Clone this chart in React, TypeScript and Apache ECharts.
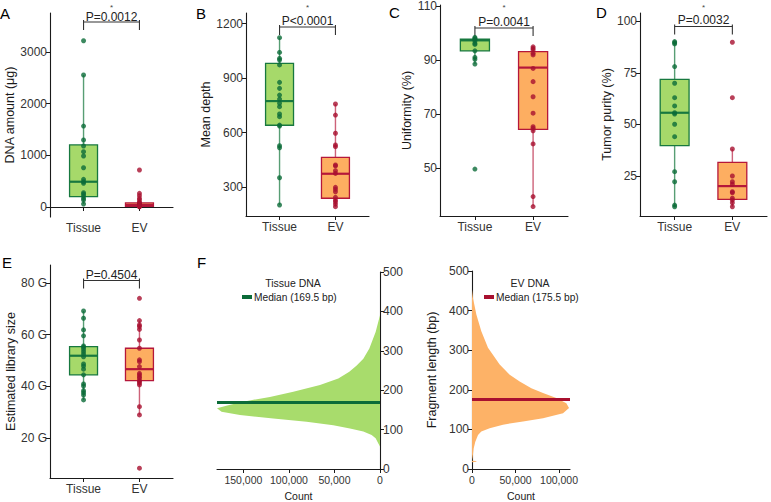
import React, { useEffect, useRef } from 'react';
import * as echarts from 'echarts';

// ---------------- data ----------------
const categories = ['Tissue', 'EV'];

// A: DNA amount (μg)
const dnaTissue = [3216, 2553, 1566, 1296, 1180, 1070, 986, 760, 536, 489, 458, 277, 251, 213, 168, 135, 58];
const dnaEV = [716, 265, 219, 168, 135, 95, 80, 65, 55, 45, 35, 25, 20, 15, 10, 5];
// [lower whisker, Q1, median, Q3, upper whisker]
const dnaBoxTissue = [58, 200, 489, 1200, 2553];
const dnaBoxEV = [5, 15, 40, 80, 168];

// B: Mean depth
const depthTissue = [1122, 1041, 1008, 999, 972, 876, 843, 806, 784, 761, 742, 702, 687, 641, 636, 527, 516, 351, 201];
const depthEV = [757, 696, 596, 531, 522, 421, 416, 390, 375, 298, 287, 274, 243, 228, 219, 206, 192];
const depthBoxTissue = [201, 640, 773, 981, 1122];
const depthBoxEV = [192, 238, 373, 463, 757];

// C: Uniformity (%)
const uniTissue = [98.4, 98.0, 97.7, 97.1, 96.2, 95.8, 93.4, 91.0, 90.3, 88.5, 49.6];
const uniEV = [94.9, 94.3, 93.7, 92.5, 91.9, 86.9, 82.0, 76.4, 70.3, 65.3, 64.7, 63.8, 58.9, 39.4, 35.7];
const uniBoxTissue = [88.5, 93.4, 97.3, 97.7, 98.4];
const uniBoxEV = [35.7, 64.3, 87.2, 93.1, 94.9];

// D: Tumor purity (%)
const purityTissue = [90.2, 89.7, 89.1, 78.1, 70.0, 63.0, 59.0, 55.7, 55.1, 50.1, 44.1, 27.1, 22.2, 10.9, 10.1];
const purityEV = [89.9, 63.0, 38.1, 25.0, 22.2, 21.0, 17.4, 16.9, 14.2, 13.3, 12.0, 10.1];
const purityBoxTissue = [10.1, 39.7, 55.7, 71.9, 90.2];
const purityBoxEV = [10.1, 13.7, 20.1, 31.6, 38.1];

// E: Estimated library size (G)
const libTissue = [69.1, 66.3, 61.8, 59.5, 55.6, 55.1, 54.3, 53.4, 52.5, 51.4, 48.6, 47.8, 46.6, 44.4, 40.9, 40.1, 38.3, 37.5, 36.6, 34.7];
const libEV = [74.0, 65.4, 63.7, 63.1, 62.0, 57.9, 54.7, 50.2, 49.5, 47.6, 45.0, 44.4, 43.7, 43.1, 42.2, 41.8, 41.2, 40.5, 32.1, 28.9, 8.3];
const libBoxTissue = [34.7, 44.4, 51.8, 55.3, 69.1];
const libBoxEV = [28.9, 42.2, 46.6, 54.7, 65.4];

const pValues = ['P=0.0012', 'P<0.0001', 'P=0.0041', 'P=0.0032', 'P=0.4504'];

// F: fragment length distributions (bp -> count)
const tissueFragLen = [57, 65, 78, 86, 95, 103, 111, 120, 128, 137, 145, 154, 162, 171, 183, 196, 213, 230, 247, 263, 280, 306, 348, 390];
const tissueFragCount = [0, 1800, 4800, 9200, 18300, 33000, 51300, 80600, 117200, 153800, 174000, 179000, 166700, 150200, 120900, 95200, 65900, 45800, 33700, 25600, 18300, 11700, 4800, 0];
const evFragLen = [17, 18, 20, 21, 31, 52, 69, 86, 95, 103, 112, 120, 128, 141, 154, 166, 179, 192, 204, 221, 238, 264, 306, 348, 390, 432, 453];
const evFragCount = [0, 5000, 5000, 0, 800, 1900, 3800, 6900, 10700, 20300, 35600, 58600, 81600, 104600, 111500, 108400, 96900, 81600, 68200, 54800, 43300, 31800, 18400, 10700, 5000, 1100, 0];
const tissueMedian = 169.5;
const evMedian = 175.5;
const fragTicks = [0, 100, 200, 300, 400, 500];
const countTicksTissue = [0, 50000, 100000, 150000];
const countTicksEV = [0, 50000, 100000];

// ---------------- style ----------------
const FONT = "'Liberation Sans', Arial, Helvetica, sans-serif";
const GREEN_FILL = '#a6d96a';
const GREEN = '#17783f';
const GREEN_PT = '#0b6b38';
const GREEN_WH = 'rgba(23,120,63,0.72)';
const ORANGE_FILL = '#fdae61';
const RED = '#b5173a';
const RED_PT = '#a8102f';
const RED_WH = 'rgba(181,23,58,0.68)';
const AXIS = '#1a1a1a';
const LABEL = '#333333';

type Panel = {
  letter: string; left: number; top: number; width: number; height: number;
  min: number; max: number; ticks: number[]; name: string; nameGap: number;
  tissue: number[]; ev: number[]; boxT: number[]; boxE: number[];
  fmt: (v: number) => string; p: string; bracketY: number; pY: number; star: boolean;
};

const panels: Panel[] = [
  { letter: 'A', left: 50, top: 13, width: 123, height: 204, min: -193, max: 3752, ticks: [0, 1000, 2000, 3000], name: 'DNA amount (μg)', nameGap: 33,
    tissue: dnaTissue, ev: dnaEV, boxT: dnaBoxTissue, boxE: dnaBoxEV, fmt: (v) => String(v), p: pValues[0], bracketY: 22, pY: 17, star: true },
  { letter: 'B', left: 246, top: 13, width: 123, height: 203, min: 140.4, max: 1257.8, ticks: [300, 600, 900, 1200], name: 'Mean depth', nameGap: 34,
    tissue: depthTissue, ev: depthEV, boxT: depthBoxTissue, boxE: depthBoxEV, fmt: (v) => String(v), p: pValues[1], bracketY: 27, pY: 21, star: true },
  { letter: 'C', left: 440, top: 5, width: 128, height: 211, min: 32.2, max: 110.4, ticks: [50, 70, 90, 110], name: 'Uniformity (%)', nameGap: 27,
    tissue: uniTissue, ev: uniEV, boxT: uniBoxTissue, boxE: uniBoxEV, fmt: (v) => String(v), p: pValues[2], bracketY: 28, pY: 22, star: true },
  { letter: 'D', left: 640, top: 13, width: 127, height: 203, min: 5.6, max: 104.1, ticks: [25, 50, 75, 100], name: 'Tumor purity (%)', nameGap: 27,
    tissue: purityTissue, ev: purityEV, boxT: purityBoxTissue, boxE: purityBoxEV, fmt: (v) => String(v), p: pValues[3], bracketY: 26.5, pY: 20, star: true },
  { letter: 'E', left: 50, top: 265, width: 123, height: 213, min: 4.5, max: 86.9, ticks: [20, 40, 60, 80], name: 'Estimated library size', nameGap: 33,
    tissue: libTissue, ev: libEV, boxT: libBoxTissue, boxE: libBoxEV, fmt: (v) => v + ' G', p: pValues[4], bracketY: 280.5, pY: 275, star: false },
];

const F_LEFT = { left: 217, top: 272, width: 163, height: 197, max: 179000 };
const F_RIGHT = { left: 472, top: 271, width: 98, height: 198, max: 112600 };

const fmtCount = (v: number) => v.toLocaleString('en-US');

function buildOption() {
  const grid: any[] = [];
  const xAxis: any[] = [];
  const yAxis: any[] = [];
  const series: any[] = [];
  const graphic: any[] = [];

  const axisLine = { show: true, lineStyle: { color: AXIS, width: 1.1 } };
  const axisTickBase = { show: true, length: 4, lineStyle: { color: AXIS, width: 1 } };

  panels.forEach((p, i) => {
    grid.push({ left: p.left, top: p.top, width: p.width, height: p.height, containLabel: false, outerBoundsMode: 'none' });
    xAxis.push({
      type: 'value', gridIndex: i, min: 0.4, max: 2.6,
      axisLine, splitLine: { show: false },
      axisTick: { ...axisTickBase, customValues: [1, 2] },
      axisLabel: { customValues: [1, 2], formatter: (v: number) => categories[Math.round(v) - 1] ?? '', color: LABEL, fontSize: 12, fontFamily: FONT, margin: 5 },
    });
    yAxis.push({
      type: 'value', gridIndex: i, min: p.min, max: p.max,
      axisLine, splitLine: { show: false },
      axisTick: { ...axisTickBase, customValues: p.ticks },
      axisLabel: { customValues: p.ticks, formatter: p.fmt, color: LABEL, fontSize: 12, fontFamily: FONT, margin: 3 },
      name: p.name, nameLocation: 'middle', nameGap: p.nameGap,
      nameTextStyle: { color: '#1a1a1a', fontSize: 12.5, fontFamily: FONT },
    });
    const boxT = p.boxT, boxE = p.boxE;
    series.push({
      type: 'custom', xAxisIndex: i, yAxisIndex: i, z: 2,
      data: [[1, ...boxT], [2, ...boxE]],
      encode: { x: 0, y: [1, 2, 3, 4, 5] },
      renderItem: (params: any, api: any) => {
        const x = api.value(0);
        const isT = params.dataIndex === 0;
        const stroke = isT ? GREEN : RED;
        const fill = isT ? GREEN_FILL : ORANGE_FILL;
        const wh = isT ? GREEN_WH : RED_WH;
        const halfW = api.size([0.5, 0])[0] / 2;
        const pts = [1, 2, 3, 4, 5].map((d) => api.coord([x, api.value(d)]));
        const [lw, q1, med, q3, uw] = pts;
        return {
          type: 'group',
          children: [
            { type: 'line', shape: { x1: lw[0], y1: lw[1], x2: q1[0], y2: q1[1] }, style: { stroke: wh, lineWidth: 1.4 } },
            { type: 'line', shape: { x1: q3[0], y1: q3[1], x2: uw[0], y2: uw[1] }, style: { stroke: wh, lineWidth: 1.4 } },
            { type: 'rect', shape: { x: q3[0] - halfW, y: q3[1], width: halfW * 2, height: Math.max(q1[1] - q3[1], 1) }, style: { fill, stroke, lineWidth: 1.3 } },
            { type: 'line', shape: { x1: med[0] - halfW, y1: med[1], x2: med[0] + halfW, y2: med[1] }, style: { stroke, lineWidth: 2.2 } },
          ],
        };
      },
    });
    series.push({
      type: 'scatter', xAxisIndex: i, yAxisIndex: i, z: 3, symbolSize: 5,
      itemStyle: { color: GREEN_PT }, data: p.tissue.map((v) => [1, v]),
    });
    series.push({
      type: 'scatter', xAxisIndex: i, yAxisIndex: i, z: 3, symbolSize: 5,
      itemStyle: { color: RED_PT }, data: p.ev.map((v) => [2, v]),
    });

    // significance bracket
    const cx = (c: number) => p.left + ((c - 0.4) / 2.2) * p.width;
    const x1 = cx(1), x2 = cx(2);
    graphic.push({ type: 'line', shape: { x1, y1: p.bracketY, x2, y2: p.bracketY }, style: { stroke: '#333', lineWidth: 1.1 } });
    graphic.push({ type: 'line', shape: { x1, y1: p.bracketY - 2, x2: x1, y2: p.bracketY + 8 }, style: { stroke: '#333', lineWidth: 1.1 } });
    graphic.push({ type: 'line', shape: { x1: x2, y1: p.bracketY - 2, x2, y2: p.bracketY + 8 }, style: { stroke: '#333', lineWidth: 1.1 } });
    graphic.push({ type: 'text', x: (x1 + x2) / 2, y: p.pY, style: { text: p.p, fill: '#222', font: `12px ${FONT}`, align: 'center', verticalAlign: 'middle' } });
    if (p.star) {
      graphic.push({ type: 'text', x: (x1 + x2) / 2, y: 7, style: { text: '*', fill: '#444', font: `8px ${FONT}`, align: 'center', verticalAlign: 'middle' } });
    }
  });

  const letters = [
    { t: 'A', x: 0, y: 13 }, { t: 'B', x: 196, y: 13 }, { t: 'C', x: 389, y: 12 }, { t: 'D', x: 596, y: 12 },
    { t: 'E', x: 2, y: 262 }, { t: 'F', x: 197, y: 262 },
  ];
  letters.forEach((l) => graphic.push({ type: 'text', x: l.x, y: l.y, style: { text: l.t, fill: '#000', font: `15px ${FONT}`, verticalAlign: 'middle' } }));

  // F left (tissue)
  const gL = panels.length;
  grid.push({ left: F_LEFT.left, top: F_LEFT.top, width: F_LEFT.width, height: F_LEFT.height, containLabel: false, outerBoundsMode: 'none' });
  xAxis.push({
    type: 'value', gridIndex: gL, min: 0, max: F_LEFT.max, inverse: true,
    axisLine, splitLine: { show: false },
    axisTick: { ...axisTickBase, customValues: countTicksTissue },
    axisLabel: { customValues: countTicksTissue, formatter: fmtCount, color: LABEL, fontSize: 10.5, fontFamily: FONT, margin: 5 },
    name: 'Count', nameLocation: 'middle', nameGap: 21, nameTextStyle: { color: '#1a1a1a', fontSize: 10.5, fontFamily: FONT },
  });
  yAxis.push({
    type: 'value', gridIndex: gL, min: 0, max: 500, position: 'right',
    axisLine, splitLine: { show: false },
    axisTick: { ...axisTickBase, customValues: fragTicks },
    axisLabel: { customValues: fragTicks, color: LABEL, fontSize: 12, fontFamily: FONT, margin: 3 },
  });

  // F right (EV)
  const gR = gL + 1;
  grid.push({ left: F_RIGHT.left, top: F_RIGHT.top, width: F_RIGHT.width, height: F_RIGHT.height, containLabel: false, outerBoundsMode: 'none' });
  xAxis.push({
    type: 'value', gridIndex: gR, min: 0, max: F_RIGHT.max,
    axisLine, splitLine: { show: false },
    axisTick: { ...axisTickBase, customValues: countTicksEV },
    axisLabel: { customValues: countTicksEV, formatter: fmtCount, color: LABEL, fontSize: 10.5, fontFamily: FONT, margin: 5 },
    name: 'Count', nameLocation: 'middle', nameGap: 21, nameTextStyle: { color: '#1a1a1a', fontSize: 10.5, fontFamily: FONT },
  });
  yAxis.push({
    type: 'value', gridIndex: gR, min: 0, max: 500,
    axisLine, splitLine: { show: false },
    axisTick: { ...axisTickBase, customValues: fragTicks },
    axisLabel: { customValues: fragTicks, color: LABEL, fontSize: 12, fontFamily: FONT, margin: 3 },
    name: 'Fragment length (bp)', nameLocation: 'middle', nameGap: 34,
    nameTextStyle: { color: '#1a1a1a', fontSize: 12.5, fontFamily: FONT },
  });

  const density = (gi: number, lens: number[], counts: number[], fill: string) => ({
    type: 'custom', xAxisIndex: gi, yAxisIndex: gi, z: 1,
    data: lens.map((b, k) => [counts[k], b]),
    encode: { x: 0, y: 1 },
    renderItem: (params: any, api: any) => {
      if (params.dataIndex !== 0) return null;
      const pts: number[][] = [api.coord([0, lens[0]])];
      lens.forEach((b, k) => pts.push(api.coord([counts[k], b])));
      pts.push(api.coord([0, lens[lens.length - 1]]));
      return { type: 'polygon', shape: { points: pts }, style: { fill } };
    },
  });
  series.push(density(gL, tissueFragLen, tissueFragCount, '#a8dc6c'));
  series.push(density(gR, evFragLen, evFragCount, '#fdb267'));

  const tissueMedName = `Median (${tissueMedian} bp)`;
  const evMedName = `Median (${evMedian} bp)`;
  const medianLine = (gi: number, name: string, value: number, color: string) => ({
    type: 'line', name, xAxisIndex: gi, yAxisIndex: gi, data: [], z: 5, color,
    itemStyle: { color }, lineStyle: { color },
    markLine: {
      silent: true, symbol: 'none', label: { show: false },
      lineStyle: { color, width: 3, type: 'solid' },
      data: [{ yAxis: value }],
    },
  });
  series.push(medianLine(gL, tissueMedName, tissueMedian, '#0b6b38'));
  series.push(medianLine(gR, evMedName, evMedian, '#a8102f'));

  graphic.push({ type: 'text', x: 293, y: 283, style: { text: 'Tissue DNA', fill: '#222', font: `10.5px ${FONT}`, align: 'center', verticalAlign: 'middle' } });
  graphic.push({ type: 'text', x: 530, y: 283, style: { text: 'EV DNA', fill: '#222', font: `10.5px ${FONT}`, align: 'center', verticalAlign: 'middle' } });

  const legendBase = {
    icon: 'rect', itemWidth: 10, itemHeight: 4, padding: 0, itemGap: 0,
    textStyle: { fontSize: 10.2, color: '#222', fontFamily: FONT, padding: [0, 0, 0, -3] },
    selectedMode: false,
  };
  const legend = [
    { ...legendBase, data: [tissueMedName], left: 242, top: 292 },
    { ...legendBase, data: [evMedName], left: 484, top: 292 },
  ];

  return { animation: false, backgroundColor: '#ffffff', grid, xAxis, yAxis, series, graphic, legend };
}

export default function App() {
  const ref = useRef<HTMLDivElement>(null);
  useEffect(() => {
    if (!ref.current) return;
    const chart = echarts.init(ref.current, undefined, { renderer: 'svg' });
    chart.setOption(buildOption() as any);
    return () => chart.dispose();
  }, []);
  return <div ref={ref} style={{ position: 'fixed', left: 0, top: 0, width: 771, height: 502 }} />;
}
